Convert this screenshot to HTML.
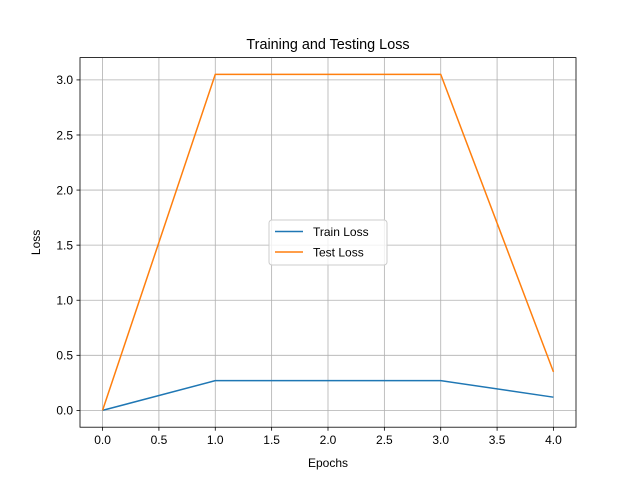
<!DOCTYPE html>
<html><head><meta charset="utf-8"><style>
body{margin:0;background:#fff}
svg{display:block;font-family:"Liberation Sans","DejaVu Sans",sans-serif}
</style></head><body>
<svg id="chart" width="640" height="480" xmlns="http://www.w3.org/2000/svg">
<rect width="640" height="480" fill="#fff"/>
<g id="grid"></g>
<g id="series"></g>
<rect x="80" y="57.6" width="496" height="369.6" fill="none" stroke="#000" stroke-width="0.8"/>
<g id="ticks"></g>
<text x="328" y="49" text-anchor="middle" font-size="14.4">Training and Testing Loss</text>
<text x="328" y="467" text-anchor="middle" font-size="12">Epochs</text>
<text transform="translate(40,242.4) rotate(-90)" text-anchor="middle" font-size="12">Loss</text>
<g>
<rect x="269" y="220" width="118" height="45" rx="3" fill="#fff" fill-opacity="0.8" stroke="#ccc" stroke-width="1"/>
<g><line x1="275" y1="231.5" x2="303" y2="231.5" stroke="#1f77b4" stroke-width="1.5"/><text x="313" y="236" font-size="12">Train Loss</text></g>
<g><line x1="275" y1="252" x2="303" y2="252" stroke="#ff7f0e" stroke-width="1.5"/><text x="313" y="256.5" font-size="12">Test Loss</text></g>
</g>
</svg>
<script>
const epochs=[0,1,2,3,4];
const trainLoss=[0,0.27,0.27,0.27,0.12];
const testLoss=[0,3.05,3.05,3.05,0.35];
const xTicks=[0,0.5,1,1.5,2,2.5,3,3.5,4];
const yTicks=[0,0.5,1,1.5,2,2.5,3];
const NS="http://www.w3.org/2000/svg";
const all=trainLoss.concat(testLoss);
const xmin=Math.min(...epochs),xmax=Math.max(...epochs);
const ymin=Math.min(...all),ymax=Math.max(...all);
const xpad=(xmax-xmin)*0.05,ypad=(ymax-ymin)*0.05;
const L=80,R=576,T=57.6,B=427.2;
const sx=v=>L+(v-(xmin-xpad))/((xmax+xpad)-(xmin-xpad))*(R-L);
const sy=v=>B-(v-(ymin-ypad))/((ymax+ypad)-(ymin-ypad))*(B-T);
function mk(tag,attrs,parent){const e=document.createElementNS(NS,tag);for(const k in attrs)e.setAttribute(k,attrs[k]);document.getElementById(parent).appendChild(e);return e;}
xTicks.forEach(t=>{const x=sx(t);
 const g=mk('line',{x1:x,x2:x,y1:T,y2:B,stroke:'#b0b0b0','stroke-width':0.8},'grid');
 
 
 const tk=mk('line',{x1:x,x2:x,y1:B,y2:B+3.5,stroke:'#000','stroke-width':0.8},'ticks');
 
 
 const lb=mk('text',{x:x,y:B+17,'text-anchor':'middle','font-size':12},'ticks');lb.textContent=t.toFixed(1);
 
 
});
yTicks.forEach(t=>{const y=sy(t);
 const g=mk('line',{x1:L,x2:R,y1:y,y2:y,stroke:'#b0b0b0','stroke-width':0.8},'grid');
 
 
 const tk=mk('line',{x1:L-3.5,x2:L,y1:y,y2:y,stroke:'#000','stroke-width':0.8},'ticks');
 
 
 const lb=mk('text',{x:L-7,y:y+4.3,'text-anchor':'end','font-size':12},'ticks');lb.textContent=t.toFixed(1);
 
 
});
const trainLine=mk('polyline',{points:epochs.map((e,i)=>sx(e)+','+sy(trainLoss[i])).join(' '),fill:'none',stroke:'#1f77b4','stroke-width':1.5,'stroke-linejoin':'round'},'series');


const testLine=mk('polyline',{points:epochs.map((e,i)=>sx(e)+','+sy(testLoss[i])).join(' '),fill:'none',stroke:'#ff7f0e','stroke-width':1.5,'stroke-linejoin':'round'},'series');


</script>
</body></html>
